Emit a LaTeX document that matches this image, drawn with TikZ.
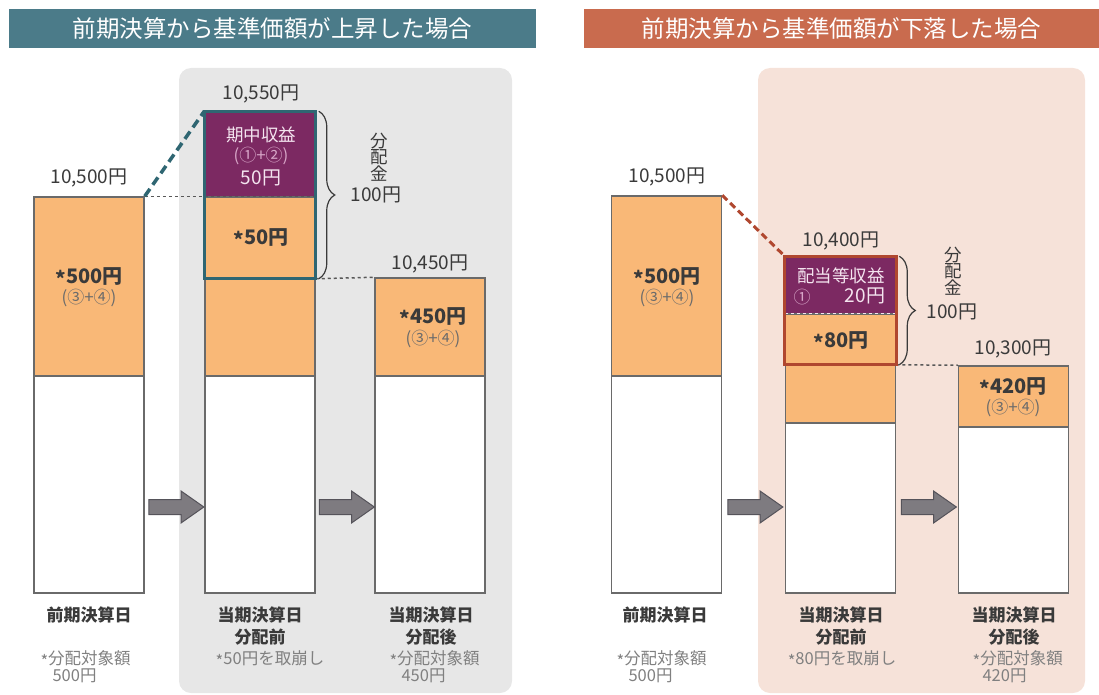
\documentclass[tikz,border=0pt]{standalone}
\usepackage{fontspec}
\setmainfont{Noto Sans CJK JP}
\usetikzlibrary{shapes.arrows,decorations.pathreplacing,calc}
\definecolor{tealhead}{HTML}{4B7B89}
\definecolor{rusthead}{HTML}{C96B4E}
\definecolor{barorange}{HTML}{F9B877}
\definecolor{plum}{HTML}{7C2962}
\definecolor{tealframe}{HTML}{2F6672}
\definecolor{rustframe}{HTML}{B0472F}
\definecolor{graybg}{HTML}{E7E7E7}
\definecolor{pinkbg}{HTML}{F6E2D9}
\definecolor{arrowgray}{HTML}{7E7B80}
\definecolor{arrowedge}{HTML}{55535A}
\definecolor{barline}{HTML}{6A6A6A}
\definecolor{ink}{HTML}{3A3A3A}
\definecolor{notegray}{HTML}{808080}
\definecolor{plumtext}{HTML}{F4E4EF}
\definecolor{plumsoft}{HTML}{D8A6C8}
\newcommand{\kome}{\raisebox{-0.15em}{*}}
\tikzstyle{headbar}=[rectangle,inner sep=0pt,text=white,font=\fontsize{23.5}{26}\selectfont]
\tikzstyle{segwhite}=[rectangle,draw=barline,line width=1.5pt,fill=white,minimum width=110pt,inner sep=0pt]
\tikzstyle{segorange}=[segwhite,fill=barorange]
\tikzstyle{segplum}=[segwhite,fill=plum]
\tikzstyle{price}=[font=\fontsize{19}{21}\selectfont,text=ink]
\tikzstyle{amount}=[font=\bfseries\fontsize{20}{22}\selectfont,text=ink]
\tikzstyle{formula}=[font=\fontsize{17}{19}\selectfont,text=ink!75]
\tikzstyle{plumline}=[font=\fontsize{17.5}{19}\selectfont,text=plumtext]
\tikzstyle{daylabel}=[font=\bfseries\fontsize{17}{22}\selectfont,text=ink,align=center]
\tikzstyle{note}=[font=\fontsize{16.5}{17}\selectfont,text=notegray]
\tikzstyle{vlabel}=[font=\fontsize{17.5}{16.5}\selectfont,text=ink,align=center]
\tikzstyle{stepper}=[single arrow,fill=arrowgray,draw=arrowedge,line width=1pt,inner xsep=0pt,inner ysep=7pt,minimum height=55pt,single arrow head extend=8.5pt,single arrow tip angle=70]
\tikzstyle{brace}=[draw=ink,line width=1.2pt,decorate,decoration={brace,amplitude=16pt}]
\tikzstyle{levelline}=[draw=ink!85,line width=1.5pt,dash pattern=on 3pt off 3pt]

\begin{document}
\begin{tikzpicture}[x=1pt, y=-1pt]
\useasboundingbox (0,0) rectangle (1099,695);

% Panels
\fill[graybg, rounded corners=12pt] (179,68) rectangle (512,693);
\fill[pinkbg, rounded corners=12pt] (758,68) rectangle (1085,693);

% Headers
\node[headbar, fill=tealhead, minimum width=527pt, minimum height=39pt] (headL) at (272.5,28.5) {前期決算から基準価額が上昇した場合};
\node[headbar, fill=rusthead, minimum width=515pt, minimum height=39pt] (headR) at (841.5,28.5) {前期決算から基準価額が下落した場合};

% Bars
    \foreach \pos/\name/\h in {{(89,484.5)/Aw/217}, {(260,484.5)/Bw/217}, {(430,484.5)/Cw/217}, {(666.5,484.5)/Dw/217}, {(840.5,508)/Ew/170}, {(1013.5,510)/Fw/166}}
        \node[segwhite, minimum height=\h pt] (\name) at \pos {};
    \foreach \pos/\name/\h in {{(89,286.5)/Ao/179}, {(260,327)/Bo/98}, {(260,237.5)/Bm/81}, {(430,327)/Co/98}, {(666.5,286)/Do/180}, {(840.5,393.5)/Eo/59}, {(840.5,339)/Em/50}, {(1013.5,396.5)/Fo/61}}
        \node[segorange, minimum height=\h pt] (\name) at \pos {};
    \foreach \pos/\name/\h in {{(260,154.5)/Bp/85}, {(840.5,285.5)/Ep/57}}
        \node[segplum, minimum height=\h pt] (\name) at \pos {};

% Level lines
\draw[levelline] (Ao.north east) -- (Bm.north east);
\draw[levelline] (Bm.south east) -- (Co.north west);
\draw[levelline] (Em.south east) -- (Fo.north west);
\draw[levelline, draw=plumtext] (Em.north west) -- (Em.north east);

% Frames
\draw[tealframe, line width=3pt] (Bp.north west) rectangle (Bm.south east);
\draw[rustframe, line width=3pt] (Ep.north west) rectangle (Em.south east);

% Jumps
\draw[tealframe, line width=3.5pt, dash pattern=on 9pt off 5pt] (Ao.north east) -- (Bp.north west);
\draw[rustframe, line width=3pt, dash pattern=on 7pt off 4pt] (Do.north east) -- (Ep.north west);

% Braces
\draw[brace] ($(Bp.north east)+(3,0)$) -- ($(Bm.south east)+(3,0)$);
\draw[brace] ($(Ep.north east)+(3,0)$) -- ($(Em.south east)+(3,0)$);

% Arrows
    \foreach \pos/\name in {{(171,507)/arL1}, {(341.5,507)/arL2}, {(750,507)/arR1}, {(923.5,507)/arR2}}
        \node[stepper] (\name) at \pos {};

% Label, rise
\node[price] (pA) at (89,178) {10,500円};
\node[price] (pB) at (261,94) {10,550円};
\node[price] (pC) at (430,264) {10,450円};
\node[amount] (vA) at (89,277) {\kome{}500円};
\node[formula] (fA) at (89,298) {(③+④)};
\node[plumline] (gB) at (261,135) {期中収益};
\node[formula, text=plumsoft] (fB) at (261,156) {(①+②)};
\node[price, text=plumtext] (iB) at (261,178) {50円};
\node[amount] (vB) at (261,238) {\kome{}50円};
\node[amount] (vC) at (433,317) {\kome{}450円};
\node[formula] (fC) at (433,339) {(③+④)};
\node[vlabel] (dL) at (379,157) {分\\配\\金};
\node[price] (sL) at (376,195) {100円};

\node[daylabel] (tA) at (89,615) {前期決算日};
\node[daylabel] (tB) at (260,626) {当期決算日\\分配前};
\node[daylabel] (tC) at (431,626) {当期決算日\\分配後};
\node[note, anchor=west] (nA1) at (37,659) {\kome{}分配対象額};
\node[note, anchor=west] (nA2) at (49,676) {500円};
\node[note] (nB) at (270,659) {\kome{}50円を取崩し};
\node[note, anchor=west] (nC1) at (386,659) {\kome{}分配対象額};
\node[note, anchor=west] (nC2) at (398,676) {450円};

% Label, fall
\node[price] (pD) at (667,177) {10,500円};
\node[price] (pE) at (841,241) {10,400円};
\node[price] (pF) at (1013,349) {10,300円};
\node[amount] (vD) at (667,277) {\kome{}500円};
\node[formula] (fD) at (667,298) {(③+④)};
\node[plumline] (gE) at (841,276) {配当等収益};
\node[formula, text=plumsoft] (fE) at (802,297) {①};
\node[price, text=plumtext] (iE) at (865,296) {20円};
\node[amount] (vE) at (841,341) {\kome{}80円};
\node[amount] (vF) at (1013,387) {\kome{}420円};
\node[formula] (fF) at (1013,408) {(③+④)};
\node[vlabel] (dR) at (953,271) {分\\配\\金};
\node[price] (sR) at (952,312) {100円};

\node[daylabel] (tD) at (665,615) {前期決算日};
\node[daylabel] (tE) at (841,626) {当期決算日\\分配前};
\node[daylabel] (tF) at (1014,626) {当期決算日\\分配後};
\node[note, anchor=west] (nD1) at (613,659) {\kome{}分配対象額};
\node[note, anchor=west] (nD2) at (625,676) {500円};
\node[note] (nE) at (842,659) {\kome{}80円を取崩し};
\node[note, anchor=west] (nF1) at (969,659) {\kome{}分配対象額};
\node[note, anchor=west] (nF2) at (979,676) {420円};

\end{tikzpicture}
\end{document}
